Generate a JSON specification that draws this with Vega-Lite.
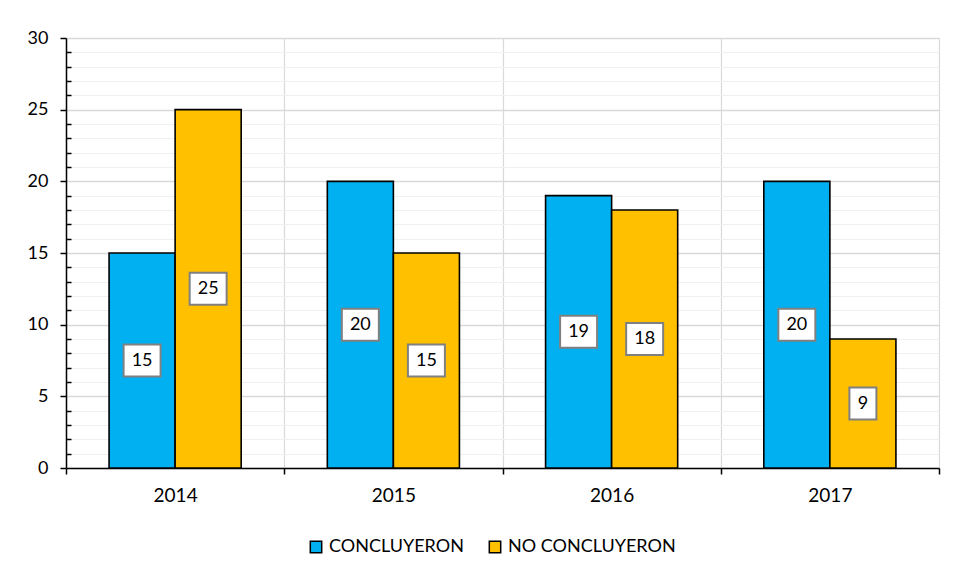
{
  "$schema": "https://vega.github.io/schema/vega-lite/v6.json",
  "width": 873,
  "height": 430,
  "autosize": {"type": "none"},
  "padding": {"left": 66, "top": 38, "right": 22, "bottom": 113},
  "background": "white",
  "config": {
    "view": {"stroke": null},
    "font": "Lato",
    "axis": {"labelFont": "Lato", "labelColor": "#000000"},
    "legend": {"labelFont": "Lato"}
  },
  "data": {
    "values": [
      {"anio": "2014", "serie": "CONCLUYERON", "valor": 15},
      {"anio": "2014", "serie": "NO CONCLUYERON", "valor": 25},
      {"anio": "2015", "serie": "CONCLUYERON", "valor": 20},
      {"anio": "2015", "serie": "NO CONCLUYERON", "valor": 15},
      {"anio": "2016", "serie": "CONCLUYERON", "valor": 19},
      {"anio": "2016", "serie": "NO CONCLUYERON", "valor": 18},
      {"anio": "2017", "serie": "CONCLUYERON", "valor": 20},
      {"anio": "2017", "serie": "NO CONCLUYERON", "valor": 9}
    ]
  },
  "transform": [{"calculate": "datum.valor / 2", "as": "mitad"}],
  "encoding": {
    "x": {
      "field": "anio",
      "type": "nominal",
      "scale": {"paddingInner": 0, "paddingOuter": 0},
      "axis": {
        "title": null,
        "labelAngle": 0,
        "labelFontSize": 19,
        "labelPadding": 21,
        "labelBaseline": "middle",
        "tickBand": "extent",
        "tickSize": 6,
        "tickColor": "#000000",
        "tickWidth": 1.5,
        "domainColor": "#000000",
        "domainWidth": 1.5,
        "grid": true,
        "gridColor": "#d9d9d9",
        "gridWidth": 1.2
      }
    },
    "xOffset": {
      "field": "serie",
      "type": "nominal",
      "scale": {"paddingInner": 0, "paddingOuter": 0.652}
    }
  },
  "layer": [
    {
      "mark": {"type": "bar", "stroke": "#000000", "strokeWidth": 1.6},
      "encoding": {
        "y": {
          "field": "valor",
          "type": "quantitative",
          "scale": {"domain": [0, 30], "nice": false},
          "axis": {
            "title": null,
            "values": [0, 1, 2, 3, 4, 5, 6, 7, 8, 9, 10, 11, 12, 13, 14, 15, 16, 17, 18, 19, 20, 21, 22, 23, 24, 25, 26, 27, 28, 29, 30],
            "tickCount": 40,
            "labelOverlap": false,
            "labelFlush": false,
            "labelExpr": "datum.value % 5 === 0 ? datum.label : ''",
            "labelFontSize": 18,
            "labelPadding": 12,
            "domainColor": "#000000",
            "domainWidth": 1.5,
            "tickColor": "#000000",
            "tickWidth": 1.5,
            "tickSize": {"condition": {"test": "datum.value % 5 === 0", "value": 6}, "value": -5},
            "grid": true,
            "gridColor": {"condition": {"test": "datum.value % 5 === 0", "value": "#d9d9d9"}, "value": "#f0f0f0"},
            "gridWidth": {"condition": {"test": "datum.value % 5 === 0", "value": 1.5}, "value": 1.2}
          }
        },
        "color": {
          "field": "serie",
          "type": "nominal",
          "scale": {"domain": ["CONCLUYERON", "NO CONCLUYERON"], "range": ["#00b0f0", "#ffc000"]},
          "legend": {
            "title": null,
            "orient": "none",
            "direction": "horizontal",
            "legendX": 241,
            "legendY": 500,
            "symbolType": "square",
            "symbolSize": 130,
            "symbolStrokeColor": "#000000",
            "symbolStrokeWidth": 1.5,
            "symbolOpacity": 1,
            "labelFontSize": 18,
            "labelLimit": 400,
            "labelColor": "#000000",
            "labelOffset": 4,
            "columnPadding": 22
          }
        }
      }
    },
    {
      "mark": {
        "type": "point",
        "filled": true,
        "fill": "#ffffff",
        "stroke": "#808080",
        "strokeWidth": 2,
        "size": 1024,
        "opacity": 1
      },
      "encoding": {
        "y": {"field": "mitad", "type": "quantitative"},
        "shape": {
          "condition": {"test": "datum.valor < 10", "value": "M-0.844,-1L0.844,-1L0.844,1L-0.844,1Z"},
          "value": "M-1.156,-1L1.156,-1L1.156,1L-1.156,1Z"
        }
      }
    },
    {
      "mark": {"type": "text", "fontSize": 18, "color": "#000000", "baseline": "middle", "align": "center"},
      "encoding": {
        "y": {"field": "mitad", "type": "quantitative"},
        "text": {"field": "valor", "type": "quantitative"}
      }
    }
  ]
}
